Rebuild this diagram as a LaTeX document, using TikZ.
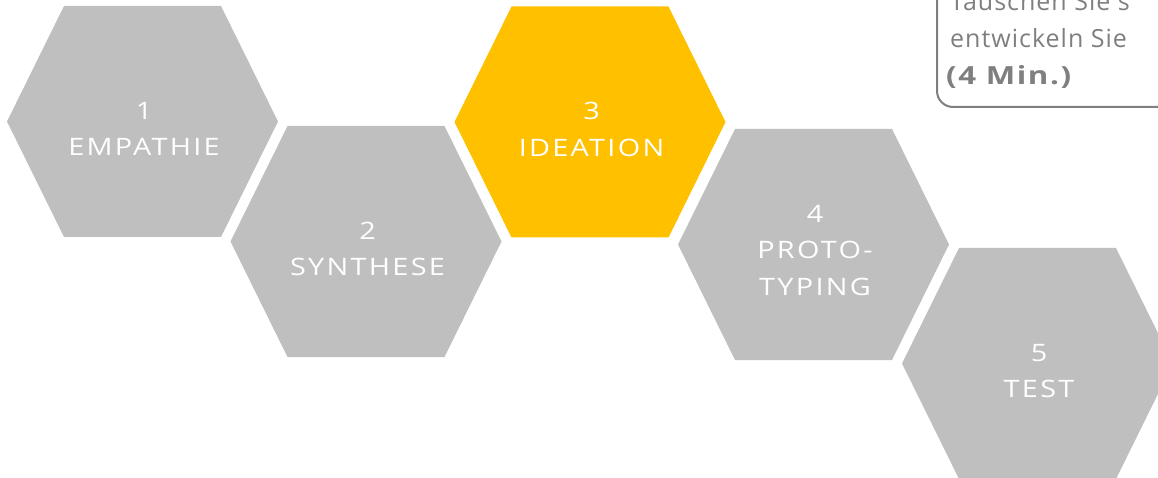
\documentclass[tikz,border=0pt]{standalone}
\usepackage{fontspec}
\setmainfont{Open Sans}
\newfontfamily\hexfont{Open Sans}[LetterSpace=8]
\newfontfamily\boxfont{Open Sans}[LetterSpace=4]
\newfontfamily\boxboldfont{Open Sans Bold}[LetterSpace=5]
\newcommand\widehex[1]{\scalebox{1.2}[1]{#1}}
\newcommand\widebold[1]{\scalebox{1.25}[1]{#1}}
\definecolor{hexgray}{HTML}{BFBFBF}
\definecolor{hexyellow}{HTML}{FFC000}
\definecolor{boxgray}{HTML}{7F7F7F}
\newcommand\myhexagon[3]{%
  \begin{scope}[shift={(#1,#2)}]
    \fill[#3] (-78.5,-115.5) -- (78.5,-115.5) -- (135.5,0) -- (78.5,115.5) -- (-78.5,115.5) -- (-135.5,0) -- cycle;
  \end{scope}}
\begin{document}
\begin{tikzpicture}[x=1pt,y=-1pt,
  hexlabel/.style={text=white,font=\hexfont\fontsize{24}{36.5}\selectfont,align=center,inner sep=0pt},
  boxtext/.style={text=boxgray,font=\boxfont\fontsize{25}{37}\selectfont,anchor=base west,inner sep=0pt}]
\useasboundingbox (0,0) rectangle (1158,478);
\clip (0,0) rectangle (1158,478);
\myhexagon{142.5}{121.5}{hexgray}
\myhexagon{366}{241.5}{hexgray}
\myhexagon{590}{122}{hexyellow}
\myhexagon{813.5}{244.5}{hexgray}
\myhexagon{1037.5}{363.5}{hexgray}
\node[hexlabel] (h1) at (144,129) {\widehex{1}\\\widehex{EMPATHIE}};
\node[hexlabel] (h2) at (367.5,249) {\widehex{2}\\\widehex{SYNTHESE}};
\node[hexlabel] (h3) at (591.5,129.5) {\widehex{3}\\\widehex{IDEATION}};
\node[hexlabel] (h4) at (815,250.5) {\widehex{4}\\\widehex{PROTO-}\\\widehex{TYPING}};
\node[hexlabel] (h5) at (1039,371) {\widehex{5}\\\widehex{TEST}};
\draw[boxgray,line width=2pt,rounded corners=16pt] (937,-30) rectangle (1200,107);
\node[boxtext] (t1) at (950,11) {Tauschen Sie s};
\node[boxtext] (t2) at (950,48) {entwickeln Sie};
\node[boxtext,font=\boxboldfont\fontsize{25}{37}\selectfont] (t3) at (946,85) {\widebold{(4 Min.)}};
\end{tikzpicture}
\end{document}
